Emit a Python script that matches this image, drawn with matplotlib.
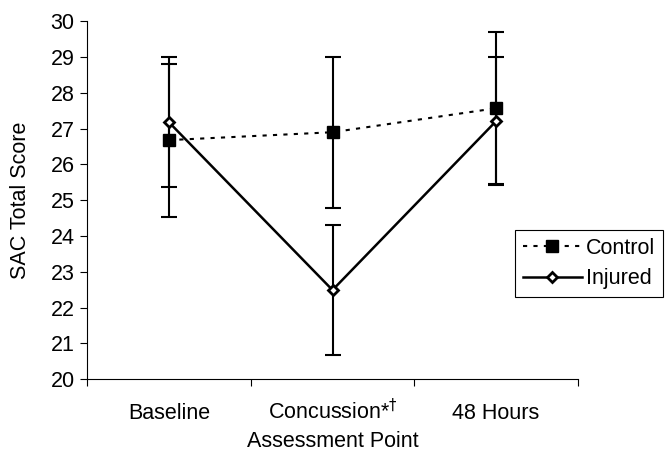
import numpy as np
import matplotlib
matplotlib.use("Agg")
import matplotlib.pyplot as plt

plt.rcParams['font.family'] = ['Liberation Sans', 'DejaVu Sans']

# data
points = ['Baseline', r'Concussion*$^{\dagger}$', '48 Hours']
control = [26.68, 26.90, 27.57]
control_err = [2.14, 2.11, 2.12]
injured = [27.18, 22.49, 27.21]
injured_err = [1.81, 1.81, 1.79]

x = np.arange(len(points))

fig = plt.figure(figsize=(6.65, 4.53), dpi=100)
ax = fig.add_axes([0.131, 0.163, 0.738, 0.790])

ax.errorbar(x, control, yerr=control_err, fmt='none', ecolor='black',
            elinewidth=1.5, capsize=6, capthick=1.5, zorder=2)
ax.errorbar(x, injured, yerr=injured_err, fmt='none', ecolor='black',
            elinewidth=1.5, capsize=6, capthick=1.5, zorder=2)
ax.plot(x, control, linestyle=(0, (2, 3)), color='black', linewidth=1.5,
        marker='s', markersize=8, markerfacecolor='black',
        markeredgecolor='black', label='Control', zorder=3)
ax.plot(x, injured, linestyle='-', color='black', linewidth=1.8,
        marker='D', markersize=5.5, markerfacecolor='white',
        markeredgecolor='black', markeredgewidth=2, label='Injured', zorder=4)

ax.set_xlim(-0.5, 2.5)
ax.set_ylim(20, 30)
ax.set_yticks(np.arange(20, 31, 1))
ax.set_xticks(x)
ax.set_xticklabels(points)
ax.set_xticks(np.arange(-0.5, 3, 1), minor=True)
ax.tick_params(axis='x', which='major', length=0, pad=28.5, labelsize=15.5)
ax.tick_params(axis='x', which='minor', length=5, direction='out', width=0.8)
ax.tick_params(axis='y', length=5, direction='out', width=0.8, labelsize=15.5, pad=4)
for lab in ax.get_xticklabels():
    lab.set_va('baseline')

for s in ['top', 'right']:
    ax.spines[s].set_visible(False)
for s in ['left', 'bottom']:
    ax.spines[s].set_linewidth(0.8)

ax.set_xlabel('Assessment Point', fontsize=15.5)
ax.xaxis.set_label_coords(0.5, -0.173)
ax.xaxis.label.set_va('center')
ax.set_ylabel('SAC Total Score', fontsize=15.5, labelpad=14)

leg = ax.legend(loc='upper left', bbox_to_anchor=(515 / 665, 1 - 230 / 453),
                bbox_transform=fig.transFigure, borderaxespad=0,
                fontsize=15.5, numpoints=1, handlelength=2.75, handletextpad=0.2,
                fancybox=False, edgecolor='black', framealpha=1,
                borderpad=0.35, labelspacing=0.45)
leg.get_frame().set_linewidth(0.8)

fig.savefig('out.png', dpi=100)
